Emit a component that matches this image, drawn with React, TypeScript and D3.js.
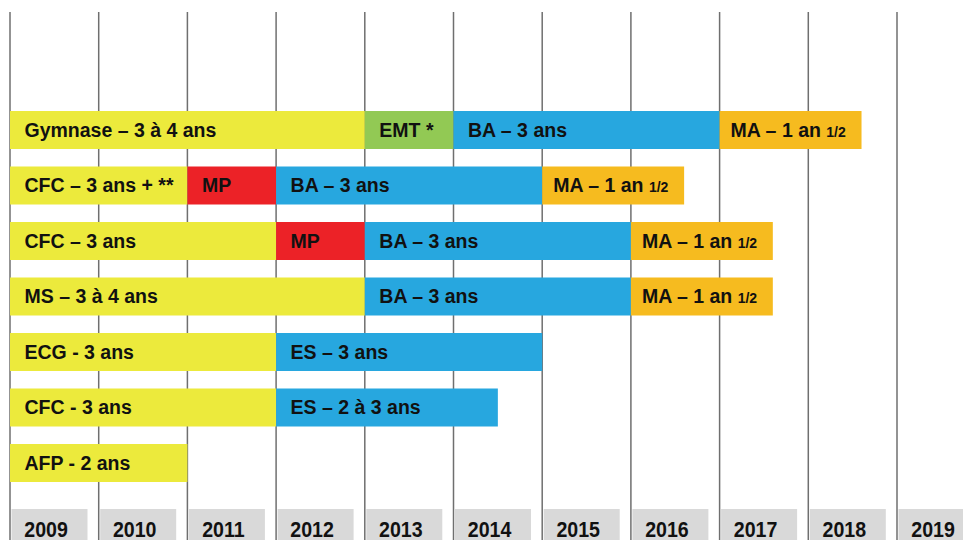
import React from "react";
import * as d3 from "d3";

const years = [2009, 2010, 2011, 2012, 2013, 2014, 2015, 2016, 2017, 2018, 2019];

// each row: list of [start, end, type, label]
type Seg = [number, number, string, string];
const row1: Seg[] = [[2009, 2013, "sec", "Gymnase – 3 à 4 ans"], [2013, 2014, "emt", "EMT *"], [2014, 2017, "ba", "BA – 3 ans"], [2017, 2018.6, "ma", "MA – 1 an |1/2"]];
const row2: Seg[] = [[2009, 2011, "sec", "CFC – 3 ans + **"], [2011, 2012, "mp", "MP"], [2012, 2015, "ba", "BA – 3 ans"], [2015, 2016.6, "ma", "MA – 1 an |1/2"]];
const row3: Seg[] = [[2009, 2012, "sec", "CFC – 3 ans"], [2012, 2013, "mp", "MP"], [2013, 2016, "ba", "BA – 3 ans"], [2016, 2017.6, "ma", "MA – 1 an |1/2"]];
const row4: Seg[] = [[2009, 2013, "sec", "MS – 3 à 4 ans"], [2013, 2016, "ba", "BA – 3 ans"], [2016, 2017.6, "ma", "MA – 1 an |1/2"]];
const row5: Seg[] = [[2009, 2012, "sec", "ECG - 3 ans"], [2012, 2015, "ba", "ES – 3 ans"]];
const row6: Seg[] = [[2009, 2012, "sec", "CFC - 3 ans"], [2012, 2014.5, "ba", "ES – 2 à 3 ans"]];
const row7: Seg[] = [[2009, 2011, "sec", "AFP - 2 ans"]];
const rows = [row1, row2, row3, row4, row5, row6, row7];

const colors: Record<string, string> = {
  sec: "#ECEA3C",
  emt: "#92C954",
  ba: "#27A7DF",
  mp: "#EC2227",
  ma: "#F6BB1F",
};

export default function App() {
  const W = 963, H = 540;
  const x = d3.scaleLinear().domain([2009, 2019]).range([10, 897]);
  const y = d3.scaleBand<number>().domain(d3.range(rows.length)).range([111, 482]).paddingInner(17.5 / 55.5).paddingOuter(0);
  const font = "'Liberation Sans', Arial, sans-serif";
  return (
    <svg width={W} height={H} style={{ position: "fixed", left: 0, top: 0, background: "#fff" }} fontFamily={font}>
      <rect x={0} y={0} width={W} height={H} fill="#fff" />
      {years.map((yr) => (
        <line key={"l" + yr} x1={x(yr)} x2={x(yr)} y1={12} y2={H} stroke="#6f6f6f" strokeWidth={1.5} />
      ))}
      {years.map((yr) => (
        <g key={"y" + yr}>
          <rect x={x(yr) + 1.5} y={509} width={76} height={40} fill="#D9D9D9" />
          <text transform={`translate(${x(yr) + 36},537) scale(0.87,1)`} textAnchor="middle" fontSize={22.5} fontWeight="bold" fill="#111">{yr}</text>
        </g>
      ))}
      {rows.map((row, i) => (
        <g key={"r" + i}>
          {row.map((s, j) => {
            const [a, b, t, lab] = s;
            const [main, small] = lab.split("|");
            const yy = y(i)!;
            return (
              <g key={j}>
                <rect x={x(a)} y={yy} width={x(b) - x(a)} height={y.bandwidth()} fill={colors[t]} />
                <text x={x(a) + (t === "ma" ? 11 : 14.5)} y={yy + y.bandwidth() / 2 + 6.8} fontSize={19.5} fontWeight="bold" fill="#111">
                  {main}
                  {small ? <tspan fontSize={14}>{small}</tspan> : null}
                </text>
              </g>
            );
          })}
        </g>
      ))}
    </svg>
  );
}
